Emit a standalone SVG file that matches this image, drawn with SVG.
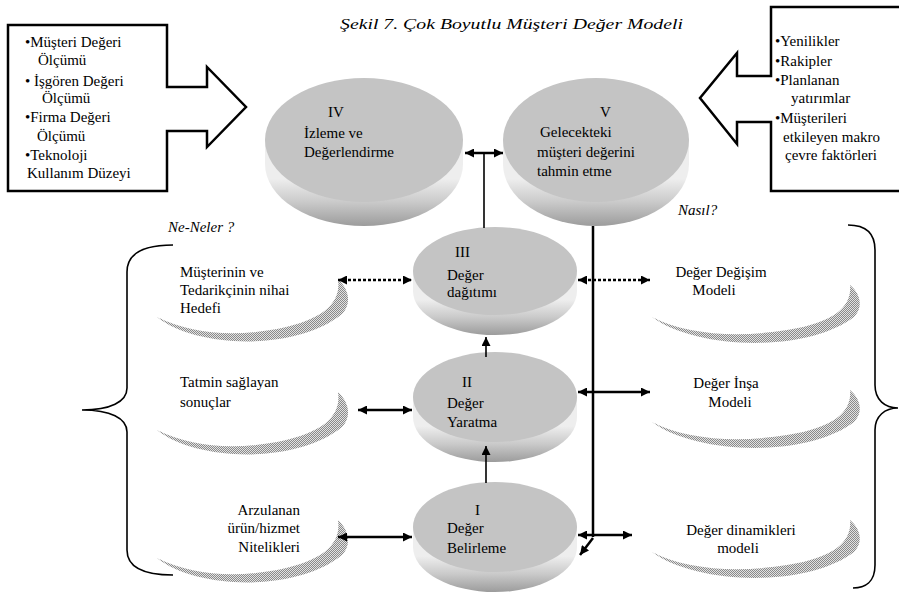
<svg xmlns="http://www.w3.org/2000/svg" width="899" height="595" viewBox="0 0 899 595">
  <style>
    text { font-family: "Liberation Serif", "Times New Roman", serif; font-size: 15px; fill: #000; }
    .it { font-style: italic; }
    .outline { fill: #fff; stroke: #000; stroke-width: 2.5; stroke-linejoin: miter; }
    .face { fill: #c4c4c4; }
    .side { fill: url(#sideShade); }
    .conn { stroke: #000; stroke-width: 2.5; fill: none; }
    .thin { stroke: #000; stroke-width: 1.6; fill: none; }
    .dash { stroke-dasharray: 3 2; }
    .brace { stroke: #000; stroke-width: 1.6; fill: none; }
    .swoosh { fill: url(#dither); }
  </style>
  <defs>
    <linearGradient id="sideShade" x1="0" y1="0" x2="0" y2="1">
      <stop offset="0.45" stop-color="#eeeeee"/>
      <stop offset="0.72" stop-color="#cacaca"/>
      <stop offset="1" stop-color="#9c9c9c"/>
    </linearGradient>
    <pattern id="dither" width="2" height="2" patternUnits="userSpaceOnUse">
      <rect width="2" height="2" fill="#e2e2e2"/>
      <rect width="1" height="1" fill="#8a8a8a"/>
      <rect x="1" y="1" width="1" height="1" fill="#8a8a8a"/>
    </pattern>
    <marker id="ah" viewBox="0 0 10 10" refX="10" refY="5" markerWidth="11" markerHeight="9" markerUnits="userSpaceOnUse" orient="auto-start-reverse">
      <path d="M0,0 L10,5 L0,10 Z" fill="#000"/>
    </marker>
    <!-- curved shadow strokes under the side labels -->
    <path id="crescentL" d="M0,38 C40,70 140,72 185,35 C195,25 192,10 181,0 C184,22 170,40 120,50 C75,58 35,55 0,38 Z"/>
    <path id="crescentR" d="M0,32 C45,65 155,68 202,32 C212,22 208,8 198,0 C200,20 185,37 135,45 C85,53 35,50 0,32 Z"/>
  </defs>

  <rect width="899" height="595" fill="#fff"/>

  <!-- title -->
  <text class="it" x="340" y="29" font-size="16" textLength="343" lengthAdjust="spacingAndGlyphs">Şekil 7. Çok Boyutlu Müşteri Değer Modeli</text>

  <!-- left input box -->
  <g id="box-measures">
    <path class="outline" d="M8,25 H167 V87 H207 V67 L246,107 L207,147 V131 H167 V191 H8 Z"/>
    <text x="25" y="47">•Müşteri Değeri</text>
    <text x="38" y="65">Ölçümü</text>
    <text x="25" y="86">• İşgören Değeri</text>
    <text x="42" y="103">Ölçümü</text>
    <text x="25" y="122">•Firma Değeri</text>
    <text x="37" y="141">Ölçümü</text>
    <text x="25" y="160">•Teknoloji</text>
    <text x="27" y="178">Kullanım Düzeyi</text>
  </g>

  <!-- right input box -->
  <g id="box-environment">
    <path class="outline" d="M902,7 H771 V76 H737 V53 L700,98 L737,144 V122 H771 V191 H902"/>
    <text x="775" y="46">•Yenilikler</text>
    <text x="775" y="66">•Rakipler</text>
    <text x="775" y="85">•Planlanan</text>
    <text x="791" y="103">yatırımlar</text>
    <text x="775" y="123">•Müşterileri</text>
    <text x="783" y="142">etkileyen makro</text>
    <text x="785" y="160">çevre faktörleri</text>
  </g>

  <!-- side headings and braces -->
  <g id="left-group">
    <text class="it" x="168" y="232">Ne-Neler ?</text>
    <path class="brace" d="M173,245 C150,245 127,250 127,272 V388 C127,402 110,410 82,410 C110,410 127,418 127,432 V550 C127,570 150,575 173,575"/>
  </g>
  <g id="right-group">
    <text class="it" x="678" y="215">Nasıl?</text>
    <path class="brace" d="M848,225 C865,225 875,232 875,250 V385 C875,400 885,408 898,408 C885,408 875,416 875,430 V565 C875,582 865,588 853,588"/>
  </g>

  <!-- left items -->
  <g id="item-goal">
    <use href="#crescentL" class="swoosh" transform="translate(157,279)"/>
    <text x="180" y="277">Müşterinin ve</text>
    <text x="180" y="295">Tedarikçinin nihai</text>
    <text x="180" y="313">Hedefi</text>
  </g>
  <g id="item-results">
    <use href="#crescentL" class="swoosh" transform="translate(157,392)"/>
    <text x="180" y="387">Tatmin sağlayan</text>
    <text x="180" y="407">sonuçlar</text>
  </g>
  <g id="item-attributes">
    <use href="#crescentL" class="swoosh" transform="translate(157,520)"/>
    <text x="300" y="515" text-anchor="end">Arzulanan</text>
    <text x="300" y="533" text-anchor="end">ürün/hizmet</text>
    <text x="300" y="552" text-anchor="end">Nitelikleri</text>
  </g>

  <!-- right items -->
  <g id="item-exchange">
    <use href="#crescentR" class="swoosh" transform="translate(652,285)"/>
    <text x="721" y="277" text-anchor="middle">Değer Değişim</text>
    <text x="714" y="295" text-anchor="middle">Modeli</text>
  </g>
  <g id="item-build">
    <use href="#crescentR" class="swoosh" transform="translate(652,390)"/>
    <text x="726" y="388" text-anchor="middle">Değer İnşa</text>
    <text x="730" y="407" text-anchor="middle">Modeli</text>
  </g>
  <g id="item-dynamics">
    <use href="#crescentR" class="swoosh" transform="translate(652,520)"/>
    <text x="741" y="535" text-anchor="middle">Değer dinamikleri</text>
    <text x="738" y="553" text-anchor="middle">modeli</text>
  </g>

  <!-- discs: side band + top face -->
  <g id="node-IV">
    <path class="side" d="M265,140 V164 A99,62 0 0 0 463,164 V140 Z"/>
    <ellipse class="face" cx="364" cy="140" rx="99" ry="62"/>
    <text x="328" y="117">IV</text>
    <text x="304" y="138">İzleme ve</text>
    <text x="304" y="157">Değerlendirme</text>
  </g>
  <g id="node-V">
    <path class="side" d="M503,140 V164 A93,62 0 0 0 689,164 V140 Z"/>
    <ellipse class="face" cx="596" cy="140" rx="93" ry="62"/>
    <text x="600" y="117">V</text>
    <text x="540" y="137">Gelecekteki</text>
    <text x="537" y="157">müşteri değerini</text>
    <text x="537" y="176">tahmin etme</text>
  </g>
  <g id="node-III">
    <path class="side" d="M413,271 V291 A82,44 0 0 0 577,291 V271 Z"/>
    <ellipse class="face" cx="495" cy="271" rx="82" ry="44"/>
    <text x="455" y="257">III</text>
    <text x="447" y="280">Değer</text>
    <text x="447" y="297">dağıtımı</text>
  </g>
  <g id="node-II">
    <path class="side" d="M413,397 V417 A82,45 0 0 0 577,417 V397 Z"/>
    <ellipse class="face" cx="495" cy="397" rx="82" ry="45"/>
    <text x="462" y="387">II</text>
    <text x="447" y="408">Değer</text>
    <text x="447" y="427">Yaratma</text>
  </g>
  <g id="node-I">
    <path class="side" d="M413,527 V547 A82,45 0 0 0 577,547 V527 Z"/>
    <ellipse class="face" cx="495" cy="527" rx="82" ry="45"/>
    <text x="475" y="515">I</text>
    <text x="447" y="533">Değer</text>
    <text x="447" y="553">Belirleme</text>
  </g>

  <!-- connectors -->
  <g id="connectors">
    <line class="conn" x1="465" y1="153" x2="503" y2="153" marker-start="url(#ah)" marker-end="url(#ah)"/>
    <line class="thin" x1="484" y1="153" x2="484" y2="228"/>
    <line class="conn" x1="593" y1="226" x2="593" y2="537" stroke-width="3"/>
    <line class="conn dash" x1="578" y1="280" x2="650" y2="280" stroke-width="2" marker-start="url(#ah)" marker-end="url(#ah)"/>
    <line class="conn" x1="578" y1="392" x2="650" y2="392" marker-start="url(#ah)" marker-end="url(#ah)"/>
    <line class="conn" x1="578" y1="535" x2="632" y2="535" marker-start="url(#ah)" marker-end="url(#ah)"/>
    <line class="conn" x1="593" y1="538" x2="580" y2="555" stroke-width="2" marker-end="url(#ah)"/>
    <line class="conn dash" x1="338" y1="280" x2="412" y2="280" stroke-width="2" marker-start="url(#ah)" marker-end="url(#ah)"/>
    <line class="conn" x1="358" y1="410" x2="412" y2="410" marker-start="url(#ah)" marker-end="url(#ah)"/>
    <line class="conn" x1="338" y1="537" x2="412" y2="537" marker-start="url(#ah)" marker-end="url(#ah)"/>
    <line class="thin" x1="486" y1="357" x2="486" y2="337" marker-end="url(#ah)"/>
    <line class="thin" x1="486" y1="483" x2="486" y2="446" marker-end="url(#ah)"/>
  </g>
</svg>
